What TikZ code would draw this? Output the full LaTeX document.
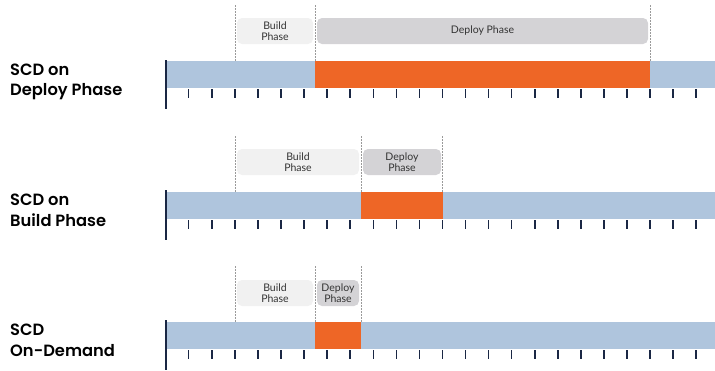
\documentclass[tikz,border=0pt]{standalone}
\usepackage{fontspec}
\setmainfont{Lato}
\newfontfamily\rowfont{Poppins}[UprightFont={* SemiBold}]
\definecolor{barblue}{HTML}{AFC5DD}
\definecolor{runorange}{HTML}{EE6626}
\definecolor{navy}{HTML}{1A2744}
\definecolor{buildgray}{HTML}{F1F1F1}
\definecolor{deploygray}{HTML}{D4D3D6}
\definecolor{guide}{HTML}{9A9A9A}
\definecolor{phasetext}{HTML}{333333}
\begin{document}
\begin{tikzpicture}[x=1pt,y=-1pt,
  rowlabel/.style={anchor=base west,align=left,inner sep=0pt,
    font=\rowfont\fontsize{16.3}{20.5}\selectfont},
  phasebox/.style={rounded corners=5pt,inner sep=0pt,align=center,
    minimum height=26pt,text=phasetext,font=\fontsize{10.5}{11}\selectfont},
  buildbox/.style={phasebox,fill=buildgray},
  deploybox/.style={phasebox,fill=deploygray},
  guideline/.style={guide,line width=0.7pt,dash pattern=on 1.6pt off 1.4pt},
  timebar/.style={fill=barblue},
  runspan/.style={fill=runorange},
  origin/.style={navy,line width=2.6pt},
  tickmark/.style={navy,line width=1.5pt}]
\useasboundingbox (0,0) rectangle (715,370);

% ---------- row 1: SCD on Deploy Phase ----------
\node[rowlabel] (lab1) at (10,95.5) {SCD on\\Deploy Phase};
\fill[timebar] (166,61) rectangle (715,88);
\fill[runspan] (315,61) rectangle (650,88);
\node[buildbox,minimum width=76pt] (b1) at (275,31) {Build\\Phase};
\node[deploybox,minimum width=331pt] (d1) at (482.5,31) {Deploy Phase};
\coordinate (g1a) at (235,5);   \coordinate (g1ab) at (235,61);
\coordinate (g1b) at (315,5);   \coordinate (g1bb) at (315,61);
\coordinate (g1c) at (650,5);   \coordinate (g1cb) at (650,61);
\draw[guideline] (g1a) -- (g1ab);
\draw[guideline] (g1b) -- (g1bb);
\draw[guideline] (g1c) -- (g1cb);
\foreach \k in {0,...,22} \draw[tickmark] ({188.7+23.07*\k},89) -- ++(0,9);
\draw[origin] (166,60) -- (166,109);

% ---------- row 2: SCD on Build Phase ----------
\node[rowlabel] (lab2) at (10,226) {SCD on\\Build Phase};
\fill[timebar] (166,192) rectangle (715,219);
\fill[runspan] (361,192) rectangle (442.7,219);
\node[buildbox,minimum width=122pt] (b2) at (298,162) {Build\\Phase};
\node[deploybox,minimum width=78pt] (d2) at (402,162) {Deploy\\Phase};
\coordinate (g2a) at (235,136); \coordinate (g2ab) at (235,192);
\coordinate (g2b) at (361,136); \coordinate (g2bb) at (361,192);
\coordinate (g2c) at (442.7,136); \coordinate (g2cb) at (442.7,192);
\draw[guideline] (g2a) -- (g2ab);
\draw[guideline] (g2b) -- (g2bb);
\draw[guideline] (g2c) -- (g2cb);
\foreach \k in {0,...,22} \draw[tickmark] ({188.7+23.07*\k},220) -- ++(0,9);
\draw[origin] (166,190) -- (166,240);

% ---------- row 3: SCD On-Demand ----------
\node[rowlabel] (lab3) at (10,356) {SCD\\On-Demand};
\fill[timebar] (166,322) rectangle (715,349);
\fill[runspan] (315,322) rectangle (361,349);
\node[buildbox,minimum width=76pt] (b3) at (275,293) {Build\\Phase};
\node[deploybox,minimum width=42pt] (d3) at (338,293) {Deploy\\Phase};
\coordinate (g3a) at (235,266); \coordinate (g3ab) at (235,322);
\coordinate (g3b) at (315,266); \coordinate (g3bb) at (315,322);
\coordinate (g3c) at (361,266); \coordinate (g3cb) at (361,322);
\draw[guideline] (g3a) -- (g3ab);
\draw[guideline] (g3b) -- (g3bb);
\draw[guideline] (g3c) -- (g3cb);
\foreach \k in {0,...,22} \draw[tickmark] ({188.7+23.07*\k},350) -- ++(0,9);
\draw[origin] (166,320) -- (166,370);
\end{tikzpicture}
\end{document}
